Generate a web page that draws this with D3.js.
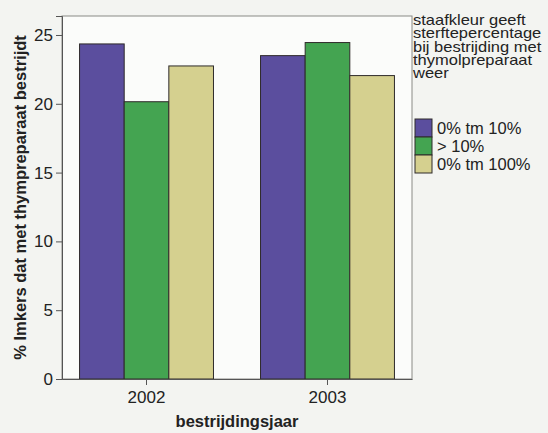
<!DOCTYPE html>
<html><head><meta charset="utf-8">
<script src="https://cdn.jsdelivr.net/npm/d3@7"></script>
<style>
html,body{margin:0;padding:0;background:#f3f4f1;}
text{font-family:"Liberation Sans",Arial,sans-serif;fill:#222;}
</style></head>
<body><svg id="c" width="548" height="433"></svg>
<script>
const years = ["2002","2003"];
const seriesNames = ["0% tm 10%","> 10%","0% tm 100%"];
const values = {
  "0% tm 10%": [24.35, 23.5],
  "> 10%": [20.15, 24.45],
  "0% tm 100%": [22.75, 22.05]
};
const colors = ["#5b4e9e","#44a451","#d5d08f"];
const yTicks = [0,5,10,15,20,25];
const legendTitle = ["staafkleur geeft","sterftepercentage","bij bestrijding met","thymolpreparaat","weer"];

const svg = d3.select("#c");
const L=62, R=412, T=16, B=379;
svg.append("rect").attr("x",0).attr("y",0).attr("width",548).attr("height",433).attr("fill","#f3f4f1");
svg.append("rect").attr("x",L).attr("y",T).attr("width",R-L).attr("height",B-T).attr("fill","#fbfcfa").attr("stroke","#8a8a86").attr("stroke-width",1);

const x = d3.scaleBand().domain(years).range([L,R]).paddingInner(0.26).paddingOuter(0.097);
const xs = d3.scaleBand().domain(seriesNames).range([0,x.bandwidth()]);
const y = d3.scaleLinear().domain([0,26.38]).range([B,T]);

const rows = [];
years.forEach((yr,i)=>seriesNames.forEach((s,j)=>rows.push({yr,s,j,v:values[s][i]})));
svg.append("g").selectAll("rect").data(rows).join("rect")
  .attr("x",d=>x(d.yr)+xs(d.s)).attr("width",xs.bandwidth())
  .attr("y",d=>y(d.v)).attr("height",d=>B-y(d.v))
  .attr("fill",d=>colors[d.j]).attr("stroke","#2e2a2a").attr("stroke-width",1);

const ya = svg.append("g").attr("transform",`translate(${L},0)`)
  .call(d3.axisLeft(y).tickValues(yTicks).tickSize(6).tickPadding(3));
ya.select(".domain").attr("stroke","#555");
ya.selectAll(".tick line").attr("stroke","#555");
ya.selectAll("text").attr("font-size",17).attr("fill","#2a2a2a").attr("font-family","Liberation Sans, Arial, sans-serif");

const xa = svg.append("g").attr("transform",`translate(0,${B})`)
  .call(d3.axisBottom(x).tickSizeInner(6).tickSizeOuter(0).tickPadding(6));
xa.select(".domain").attr("stroke","#555");
xa.selectAll(".tick line").attr("stroke","#555");
xa.selectAll("text").attr("font-size",17).attr("fill","#2a2a2a").attr("font-family","Liberation Sans, Arial, sans-serif");

svg.append("text").attr("x",(L+R)/2).attr("y",427).attr("text-anchor","middle")
  .attr("font-size",16.5).attr("font-weight","bold").text("bestrijdingsjaar");
svg.append("text").attr("transform",`translate(26,${(T+B)/2}) rotate(-90)`).attr("text-anchor","middle")
  .attr("font-size",16.5).attr("font-weight","bold").text("% Imkers dat met thympreparaat bestrijdt");

const lg = svg.append("g");
lg.selectAll("text.h").data(legendTitle).join("text").attr("class","h")
  .attr("transform",(d,i)=>`translate(413,${25+i*13.3}) scale(1.13,1)`)
  .attr("font-size",14.6).text(d=>d);
const li = lg.selectAll("g.i").data(seriesNames).join("g").attr("class","i")
  .attr("transform",(d,i)=>`translate(415,${119+i*18})`);
li.append("rect").attr("width",17).attr("height",18).attr("fill",(d,i)=>colors[i]).attr("stroke","#2e2a2a");
li.append("text").attr("x",22).attr("y",15).attr("font-size",16.5).text(d=>d);
</script></body></html>
